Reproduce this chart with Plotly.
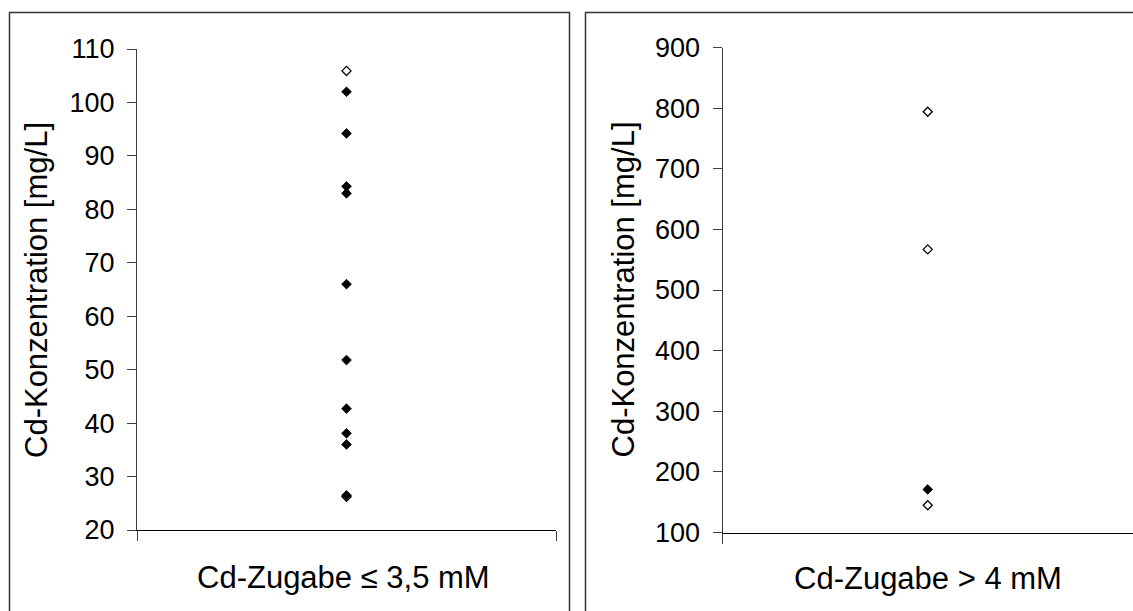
import plotly.graph_objects as go

W, H = 1133, 611

# ---- data ----
left_filled = [102.0, 94.2, 84.3, 83.0, 66.0, 51.8, 42.7, 38.1, 36.0, 26.5]
left_open = [105.9, 26.2]
right_filled = [171]
right_open = [794, 567, 145]

left_ticks = list(range(20, 111, 10))
right_ticks = list(range(100, 901, 100))

left_ytitle = "Cd-Konzentration [mg/L]"
right_ytitle = "Cd-Konzentration [mg/L]"
left_xtitle = "Cd-Zugabe ≤ 3,5 mM"
right_xtitle = "Cd-Zugabe > 4 mM"

FONT = "Liberation Sans, Arial, sans-serif"
AX = "#404040"


def px(x):
    return x / W


def py(y):
    return 1 - y / H


fig = go.Figure()

open_marker = dict(symbol="diamond", size=7, color="white", line=dict(color="black", width=1.3))
fill_marker = dict(symbol="diamond", size=7.5, color="black", line=dict(color="black", width=0.8))

fig.add_trace(go.Scatter(x=[0.5] * len(left_open), y=left_open, mode="markers",
                         marker=open_marker, xaxis="x", yaxis="y", showlegend=False))
fig.add_trace(go.Scatter(x=[0.5] * len(left_filled), y=left_filled, mode="markers",
                         marker=fill_marker, xaxis="x", yaxis="y", showlegend=False))
fig.add_trace(go.Scatter(x=[0.5] * len(right_open), y=right_open, mode="markers",
                         marker=open_marker, xaxis="x2", yaxis="y2", showlegend=False))
fig.add_trace(go.Scatter(x=[0.5] * len(right_filled), y=right_filled, mode="markers",
                         marker=fill_marker, xaxis="x2", yaxis="y2", showlegend=False))

yaxis_common = dict(showline=True, linecolor=AX, linewidth=1, ticks="outside", ticklen=9,
                    tickcolor=AX, tickwidth=1, showgrid=False, zeroline=False,
                    tickfont=dict(family=FONT, size=27, color="black"),
                    ticklabelstandoff=7, automargin=False)
xaxis_common = dict(showline=True, linecolor="black", linewidth=1, ticks="outside", ticklen=10,
                    tickcolor=AX, tickwidth=1, showgrid=False, zeroline=False,
                    showticklabels=False, range=[0, 1], automargin=False)

fig.update_layout(
    width=W, height=H,
    autosize=False,
    margin=dict(l=0, r=0, t=0, b=0, pad=0, autoexpand=False),
    paper_bgcolor="white", plot_bgcolor="white",
    showlegend=False,
    xaxis=dict(domain=[px(137), px(556)], anchor="y", tickvals=[0, 1], **xaxis_common),
    yaxis=dict(domain=[py(530), py(49)], anchor="x", range=[20, 110], tickvals=left_ticks,
               **yaxis_common),
    xaxis2=dict(domain=[px(722.5), 1.0], anchor="y2", tickvals=[0], **xaxis_common),
    yaxis2=dict(domain=[py(532.5), py(47.5)], anchor="x2", range=[100, 900], tickvals=right_ticks,
                **yaxis_common),
)

# outer frames
fig.add_shape(type="rect", xref="paper", yref="paper", x0=px(9.5), x1=px(569.5), y0=py(640), y1=py(12.5),
              line=dict(color="#333333", width=1.5), fillcolor="rgba(0,0,0,0)", layer="below")
fig.add_shape(type="rect", xref="paper", yref="paper", x0=px(585.5), x1=px(1160), y0=py(640), y1=py(12.5),
              line=dict(color="#333333", width=1.5), fillcolor="rgba(0,0,0,0)", layer="below")

title_font = dict(family=FONT, size=31, color="black")
fig.add_annotation(text=left_ytitle, xref="paper", yref="paper", x=px(36), y=py(290),
                   textangle=-90, showarrow=False, font=title_font, xanchor="center", yanchor="middle")
fig.add_annotation(text=right_ytitle, xref="paper", yref="paper", x=px(622.5), y=py(290),
                   textangle=-90, showarrow=False, font=title_font, xanchor="center", yanchor="middle")
fig.add_annotation(text=left_xtitle, xref="paper", yref="paper", x=px(343.5), y=py(577),
                   showarrow=False, font=title_font, xanchor="center", yanchor="middle")
fig.add_annotation(text=right_xtitle, xref="paper", yref="paper", x=px(928), y=py(578),
                   showarrow=False, font=title_font, xanchor="center", yanchor="middle")

fig.write_html("out.html")
